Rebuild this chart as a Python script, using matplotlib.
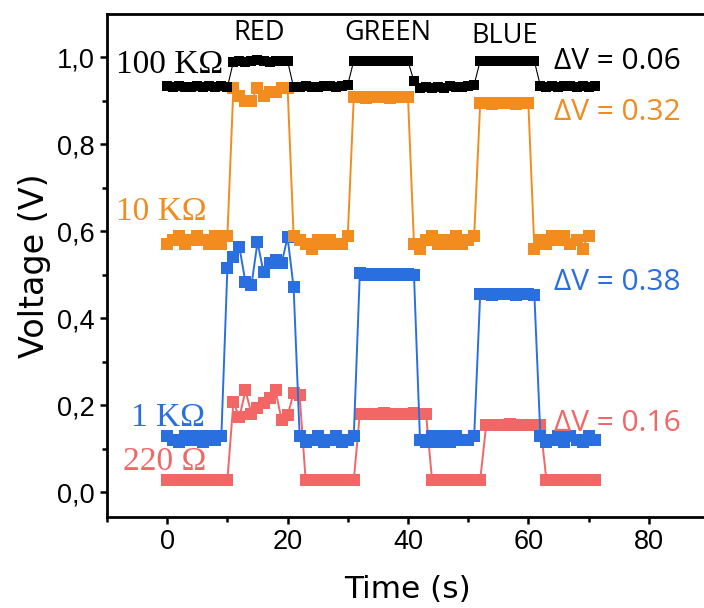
import numpy as np
import matplotlib
matplotlib.use("Agg")
import matplotlib.pyplot as plt
from matplotlib.ticker import FuncFormatter, MultipleLocator

# sampled voltages, one point per second
v_100k = [0.935, 0.932, 0.934, 0.931, 0.932, 0.935, 0.931, 0.934, 0.932, 0.935, 0.931,
          0.990, 0.992, 0.990, 0.991, 0.993, 0.992, 0.990, 0.992, 0.992, 0.991,
          0.931, 0.932, 0.934, 0.931, 0.932, 0.934, 0.935, 0.932, 0.934, 0.937,
          0.992, 0.991, 0.992, 0.991, 0.992, 0.991, 0.992, 0.991, 0.992, 0.991,
          0.945, 0.930, 0.932, 0.929, 0.932, 0.930, 0.934, 0.931, 0.932, 0.934, 0.937,
          0.992, 0.991, 0.992, 0.991, 0.992, 0.991, 0.992, 0.991, 0.992, 0.991,
          0.934, 0.931, 0.935, 0.931, 0.933, 0.935, 0.931, 0.934, 0.932, 0.935]

v_10k = [0.57, 0.58, 0.59, 0.57, 0.58, 0.59, 0.58, 0.57, 0.59, 0.57, 0.59,
         0.93, 0.91, 0.90, 0.90, 0.93, 0.91, 0.92, 0.92, 0.93, 0.93,
         0.59, 0.58, 0.57, 0.56, 0.58, 0.57, 0.58, 0.57, 0.57, 0.59,
         0.908, 0.908, 0.907, 0.908, 0.909, 0.908, 0.907, 0.908, 0.908, 0.909,
         0.57, 0.56, 0.58, 0.59, 0.57, 0.58, 0.57, 0.59, 0.57, 0.58, 0.59,
         0.894, 0.894, 0.893, 0.894, 0.895, 0.894, 0.893, 0.894, 0.894,
         0.56, 0.58, 0.57, 0.59, 0.58, 0.59, 0.57, 0.58, 0.56, 0.59]

v_1k = [0.130, 0.120, 0.115, 0.130, 0.120, 0.130, 0.115, 0.130, 0.120, 0.130,
        0.515, 0.540, 0.563, 0.483, 0.476, 0.575, 0.506, 0.526, 0.533, 0.526, 0.586, 0.471,
        0.130, 0.115, 0.120, 0.130, 0.115, 0.120, 0.130, 0.115, 0.120, 0.130,
        0.503, 0.500, 0.502, 0.500, 0.501, 0.500, 0.502, 0.500, 0.501, 0.500,
        0.120, 0.115, 0.130, 0.115, 0.130, 0.115, 0.130, 0.120, 0.120, 0.130,
        0.455, 0.455, 0.454, 0.455, 0.456, 0.455, 0.454, 0.455, 0.455, 0.454,
        0.130, 0.115, 0.120, 0.130, 0.115, 0.130, 0.120, 0.115, 0.130, 0.120]

v_220 = [0.028, 0.027, 0.028, 0.028, 0.027, 0.028, 0.028, 0.027, 0.028, 0.028, 0.028,
         0.207, 0.172, 0.234, 0.180, 0.193, 0.205, 0.216, 0.234, 0.166, 0.177, 0.227, 0.223,
         0.028, 0.027, 0.028, 0.028, 0.027, 0.028, 0.028, 0.027, 0.028,
         0.180, 0.180, 0.179, 0.180, 0.181, 0.180, 0.179, 0.180, 0.180, 0.181, 0.180, 0.180,
         0.028, 0.027, 0.028, 0.028, 0.027, 0.028, 0.028, 0.027, 0.028,
         0.155, 0.155, 0.154, 0.155, 0.156, 0.155, 0.154, 0.155, 0.155, 0.154,
         0.028, 0.027, 0.028, 0.028, 0.027, 0.028, 0.028, 0.027, 0.028]

series = [("220 Ω", v_220, "#F26666"),
          ("1 KΩ", v_1k, "#2A6FE0"),
          ("10 KΩ", v_10k, "#F28C1E"),
          ("100 KΩ", v_100k, "#000000")]

# name labels (left), colour labels (top), delta-V labels (right)
name_pos = {"100 KΩ": (-8.5, 0.982), "10 KΩ": (-8.5, 0.644),
            "1 KΩ": (-6.0, 0.17), "220 Ω": (-7.3, 0.069)}
led_names = ["RED", "GREEN", "BLUE"]
led_pos = [(15.3, 1.056), (36.6, 1.056), (56.0, 1.048)]
dv_text = ["ΔV = 0.06", "ΔV = 0.32", "ΔV = 0.38", "ΔV = 0.16"]
dv_y = [0.99, 0.874, 0.483, 0.159]
dv_col = ["#000000", "#F28C1E", "#2A6FE0", "#F26666"]

fig = plt.figure(figsize=(7.04, 6.08), dpi=100)
ax = fig.add_axes([0.152, 0.1497, 0.855, 0.827])

for name, vals, col in series:
    t = np.arange(len(vals))
    ms = 7.6 if col == "#000000" else 8.0
    lw = 0.8 if col == "#000000" else 1.4
    ax.plot(t, vals, color=col, lw=lw, marker="s", ms=ms, mec=col, mew=0)
    x, y = name_pos[name]
    ax.text(x, y, name, color=col, fontsize=24, family="Liberation Serif",
            ha="left", va="center")

for s, (x, y) in zip(led_names, led_pos):
    ax.text(x, y, s, fontsize=19.5, family="Open Sans", ha="center", va="center")

for s, y, c in zip(dv_text, dv_y, dv_col):
    ax.text(64.2, y, s, color=c, fontsize=21.5, family="Open Sans",
            ha="left", va="center")

ax.set_xlim(-10, 90)
ax.set_ylim(-0.057, 1.099)
ax.xaxis.set_major_locator(MultipleLocator(20))
ax.xaxis.set_minor_locator(MultipleLocator(10))
ax.yaxis.set_major_locator(MultipleLocator(0.2))
ax.yaxis.set_minor_locator(MultipleLocator(0.1))
ax.yaxis.set_major_formatter(FuncFormatter(lambda v, p: f"{v:.1f}".replace(".", ",")))

ax.spines["right"].set_visible(False)
for sp in ["left", "bottom", "top"]:
    ax.spines[sp].set_linewidth(2.0)
ax.tick_params(which="major", direction="out", length=5, width=1.8,
               labelsize=19.5, pad=4)
ax.tick_params(which="minor", direction="out", length=3.5, width=1.8)
for lab in ax.get_xticklabels() + ax.get_yticklabels():
    lab.set_family("Liberation Sans")

ax.set_xlabel("Time (s)", fontsize=22.5, family="DejaVu Sans", labelpad=14)
ax.set_ylabel("Voltage (V)", fontsize=24, family="DejaVu Sans", labelpad=4)

fig.savefig("out.png", dpi=100)
